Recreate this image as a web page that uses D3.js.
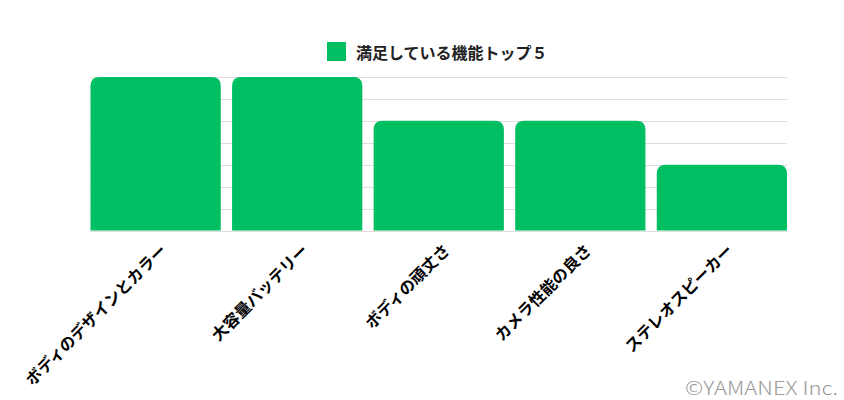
<!DOCTYPE html>
<html>
<head>
<meta charset="utf-8">
<script src="https://cdn.jsdelivr.net/npm/d3@7"></script>
<style>
  body { margin: 0; background: #fff; }
  svg { display: block; }
  text { font-family: "Noto Sans CJK JP", "Noto Sans", sans-serif; }
</style>
</head>
<body>
<svg id="chart" width="844" height="400"></svg>
<script>
// data
const categories = ["ボディのデザインとカラー", "大容量バッテリー", "ボディの頑丈さ", "カメラ性能の良さ", "ステレオスピーカー"];
const values = [7, 7, 5, 5, 3];
const yTicks = [0, 1, 2, 3, 4, 5, 6, 7];
const legendLabel = "満足している機能トップ５";

const width = 844, height = 400;
const plotLeft = 90.5, plotRight = 787, plotTop = 77, plotBottom = 230.5;
const barColor = "#00be62";

const svg = d3.select("#chart");

const x = d3.scaleBand()
  .domain(categories)
  .range([plotLeft, plotRight])
  .paddingInner(0.08)
  .paddingOuter(0);

const y = d3.scaleLinear()
  .domain([0, 7])
  .range([plotBottom, plotTop]);

// grid lines
svg.append("g")
  .selectAll("line")
  .data(yTicks)
  .enter().append("line")
  .attr("x1", plotLeft - 0.5)
  .attr("x2", plotRight)
  .attr("y1", d => Math.round(y(d)) + 0.5)
  .attr("y2", d => Math.round(y(d)) + 0.5)
  .attr("stroke", "#dedede")
  .attr("stroke-width", 1.2);

// bars with rounded top corners
const topRounded = (x0, y0, w, h, r) => {
  r = Math.min(r, h, w / 2);
  return "M" + x0 + "," + (y0 + h) +
    "V" + (y0 + r) +
    "Q" + x0 + "," + y0 + " " + (x0 + r) + "," + y0 +
    "H" + (x0 + w - r) +
    "Q" + (x0 + w) + "," + y0 + " " + (x0 + w) + "," + (y0 + r) +
    "V" + (y0 + h) + "Z";
};

svg.append("g")
  .selectAll("path")
  .data(values)
  .enter().append("path")
  .attr("d", (d, i) => topRounded(x(categories[i]), y(d), x.bandwidth(), y(0) - y(d), 9))
  .attr("fill", barColor);

// x axis labels, rotated
const xAxis = d3.axisBottom(x).tickSize(0).tickPadding(0);
const gx = svg.append("g")
  .attr("transform", "translate(0," + plotBottom + ")")
  .call(xAxis);
gx.select(".domain").remove();
gx.selectAll(".tick text")
  .attr("font-family", "'Noto Sans CJK JP', sans-serif")
  .attr("font-size", 16)
  .attr("font-weight", "bold")
  .attr("fill", "#000")
  .attr("text-anchor", "end")
  .attr("dy", null)
  .attr("y", null)
  .attr("dominant-baseline", "central")
  .attr("transform", "translate(7,16) rotate(-45)");

// legend
const legend = svg.append("g").attr("transform", "translate(327,42)");
legend.append("rect")
  .attr("width", 19)
  .attr("height", 19)
  .attr("fill", barColor);
legend.append("text")
  .attr("x", 29)
  .attr("y", 10)
  .attr("dominant-baseline", "central")
  .attr("font-size", 16)
  .attr("font-weight", "bold")
  .attr("fill", "#222")
  .text(legendLabel);

// watermark
svg.append("text")
  .attr("x", 685)
  .attr("y", 395)
  .attr("font-family", "'DejaVu Sans', sans-serif")
  .attr("font-size", 19)
  .attr("font-weight", 300)
  .attr("fill", "#999")
  .attr("textLength", 153)
  .attr("lengthAdjust", "spacingAndGlyphs")
  .text("©YAMANEX Inc.");
</script>
</body>
</html>
